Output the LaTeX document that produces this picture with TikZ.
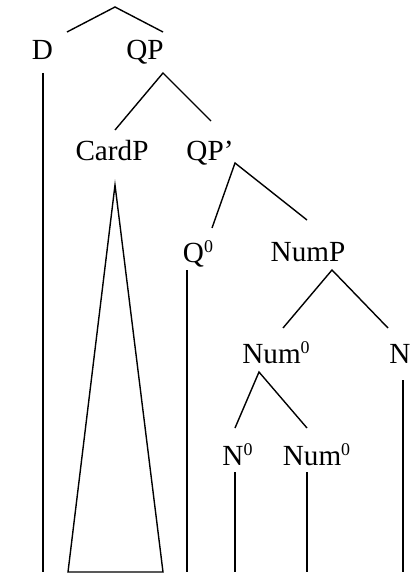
\documentclass[tikz,border=0pt]{standalone}
\usepackage{fontspec}
\setmainfont{Liberation Serif}
\newcommand{\zeroidx}{\raisebox{10bp}{\fontsize{18}{20}\selectfont 0}}
\begin{document}
\begin{tikzpicture}[x=1bp,y=-1bp,
    lbl/.style={anchor=base,inner sep=0pt,font=\fontsize{29.3}{34}\selectfont},
    branch/.style={line width=1.4bp}]
\useasboundingbox (0,0) rectangle (410,575);
\node[lbl] (D) at (42.5,60) {D};
\node[lbl] (QP) at (145,60) {QP};
\node[lbl] (CardP) at (112,161) {CardP};
\node[lbl] (QPbar) at (210,161) {QP’};
\node[lbl] (Qz) at (198,262) {Q\zeroidx};
\node[lbl] (NumP) at (308,261) {NumP};
\node[lbl] (Numz) at (276,363) {Num\zeroidx};
\node[lbl] (N) at (400,363) {N};
\node[lbl] (Nz) at (237.5,465) {N\zeroidx};
\node[lbl] (Numzz) at (316.5,465) {Num\zeroidx};
\coordinate (top) at (115,7);
\coordinate (topL) at (67,32);
\coordinate (topR) at (163,32);
\coordinate (QPa) at (163,73);
\coordinate (QPl) at (115,130);
\coordinate (QPr) at (211,121);
\coordinate (QPbara) at (235,163);
\coordinate (QPbarl) at (212,228);
\coordinate (QPbarr) at (307,220);
\coordinate (tri) at (115,185);
\coordinate (triL) at (68,572);
\coordinate (triR) at (163,572);
\coordinate (NumPa) at (332,270);
\coordinate (NumPl) at (283,328);
\coordinate (NumPr) at (388,328);
\coordinate (Numza) at (259,372);
\coordinate (Numzl) at (235,428);
\coordinate (Numzr) at (307,428);
\draw[branch] (topL) -- (top) -- (topR);
\draw[branch] (QPl) -- (QPa) -- (QPr);
\draw[branch] (QPbarl) -- (QPbara) -- (QPbarr);
\draw[branch] (NumPl) -- (NumPa) -- (NumPr);
\draw[branch] (Numzl) -- (Numza) -- (Numzr);
\draw[branch] (tri) -- (triL) -- (triR) -- cycle;
\draw[branch] (43,73) -- (43,572);
\draw[branch] (187,270) -- (187,572);
\draw[branch] (235,472) -- (235,572);
\draw[branch] (307,472) -- (307,572);
\draw[branch] (403,380) -- (403,572);
\end{tikzpicture}
\end{document}
